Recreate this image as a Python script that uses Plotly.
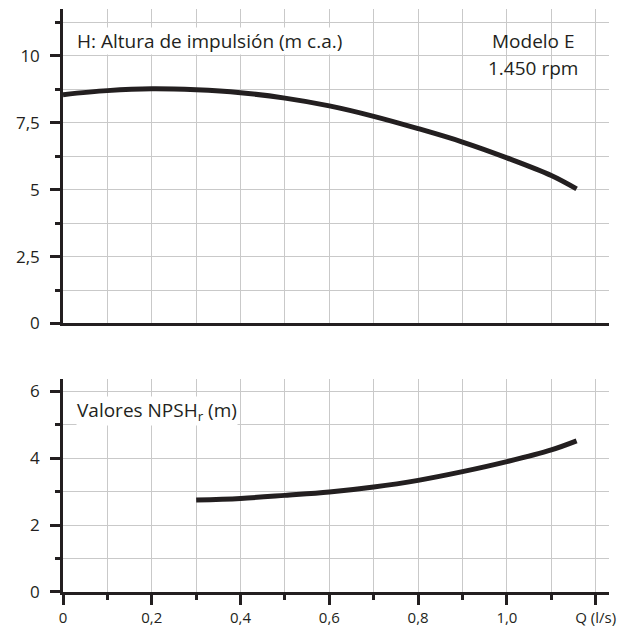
import plotly.graph_objects as go

# Data
q_h = [0, 0.1, 0.2, 0.3, 0.4, 0.5, 0.6, 0.7, 0.8, 0.9, 1.0, 1.1, 1.157]
h_vals = [8.55, 8.70, 8.77, 8.73, 8.62, 8.42, 8.13, 7.74, 7.28, 6.78, 6.19, 5.53, 5.03]

q_npsh = [0.3, 0.4, 0.5, 0.6, 0.7, 0.8, 0.9, 1.0, 1.1, 1.157]
npsh_vals = [2.75, 2.80, 2.89, 2.99, 3.14, 3.34, 3.60, 3.90, 4.25, 4.52]

h_ticks = [0, 2.5, 5, 7.5, 10]
h_ticktext = ["0", "2,5", "5", "7,5", "10"]
npsh_ticks = [0, 2, 4, 6]
npsh_ticktext = ["0", "2", "4", "6"]
q_ticks = [0, 0.2, 0.4, 0.6, 0.8, 1.0, 1.2]
q_ticktext = ["0", "0,2", "0,4", "0,6", "0,8", "1,0", "Q (l/s)"]

INK = "#231f20"
GRID = "#c9c9c9"
FONT = "Open Sans"
TXT = 19

fig = go.Figure()
fig.add_trace(go.Scatter(x=q_h, y=h_vals, mode="lines",
                         line=dict(color=INK, width=5, shape="spline", smoothing=1.0),
                         xaxis="x", yaxis="y", showlegend=False, hoverinfo="skip"))
fig.add_trace(go.Scatter(x=q_npsh, y=npsh_vals, mode="lines",
                         line=dict(color=INK, width=5, shape="spline", smoothing=1.0),
                         xaxis="x2", yaxis="y2", showlegend=False, hoverinfo="skip"))

xr = [0, 1.23]
common_x = dict(range=xr, showline=True, linecolor=INK, linewidth=2.5,
                showgrid=True, gridcolor=GRID, gridwidth=1.3, zeroline=False,
                tickmode="array", tickvals=q_ticks, automargin=False)

fig.update_layout(
    width=618, height=629,
    margin=dict(l=63, r=9, t=9, b=37),
    paper_bgcolor="white", plot_bgcolor="white",
    font=dict(family=FONT, size=17, color=INK),
    xaxis=dict(**common_x, domain=[0, 1], anchor="y", showticklabels=False,
               ticks="", minor=dict(dtick=0.1, tick0=0, showgrid=True,
                                    gridcolor=GRID, gridwidth=1.3, ticks="")),
    yaxis=dict(domain=[0.4606, 1], range=[0, 11.75], anchor="x", automargin=False,
               showline=True, linecolor=INK, linewidth=2.5, zeroline=False,
               tickmode="array", tickvals=h_ticks, ticktext=h_ticktext,
               ticks="outside", ticklen=10, tickwidth=2.5, tickcolor=INK,
               ticklabelstandoff=7,
               showgrid=True, gridcolor=GRID, gridwidth=1.3,
               minor=dict(tickvals=[1.25, 3.75, 6.25, 8.75, 11.25], ticks="outside",
                          ticklen=5, tickwidth=2.5, tickcolor=INK,
                          showgrid=True, gridcolor=GRID, gridwidth=1.3)),
    xaxis2=dict(**common_x, domain=[0, 1], anchor="y2", ticktext=q_ticktext,
                ticks="outside", ticklen=10, tickwidth=2.5, tickcolor=INK,
                ticklabelstandoff=0, ticklabeloverflow="allow",
                tickfont=dict(size=15, family=FONT, color=INK),
                minor=dict(dtick=0.1, tick0=0, showgrid=True, gridcolor=GRID,
                           gridwidth=1.3, ticks="outside", ticklen=5,
                           tickwidth=2.5, tickcolor=INK)),
    yaxis2=dict(domain=[0, 0.3647], range=[0, 6.36], anchor="x2", automargin=False,
                showline=True, linecolor=INK, linewidth=2.5, zeroline=False,
                tickmode="array", tickvals=npsh_ticks, ticktext=npsh_ticktext,
                ticks="outside", ticklen=10, tickwidth=2.5, tickcolor=INK,
                ticklabelstandoff=7,
                showgrid=True, gridcolor=GRID, gridwidth=1.3,
                minor=dict(tickvals=[1, 3, 5], ticks="outside", ticklen=5,
                           tickwidth=2.5, tickcolor=INK,
                           showgrid=True, gridcolor=GRID, gridwidth=1.3)),
    annotations=[
        dict(text="H: Altura de impulsión (m c.a.)", xref="x", yref="y",
             x=0.03, y=10.55, xanchor="left", yanchor="middle", showarrow=False,
             font=dict(size=TXT, color=INK), bgcolor="white", borderpad=0),
        dict(text="Modelo E", xref="x", yref="y",
             x=1.158, y=10.55, xanchor="right", yanchor="middle", showarrow=False,
             font=dict(size=TXT, color=INK)),
        dict(text="1.450 rpm", xref="x", yref="y",
             x=1.165, y=9.55, xanchor="right", yanchor="middle", showarrow=False,
             font=dict(size=TXT, color=INK)),
        dict(text="Valores NPSH<sub>r</sub> (m)", xref="x2", yref="y2",
             x=0.03, y=5.4, xanchor="left", yanchor="middle", showarrow=False,
             font=dict(size=TXT, color=INK), bgcolor="white", borderpad=0),
    ],
)

fig.write_html("out.html")
